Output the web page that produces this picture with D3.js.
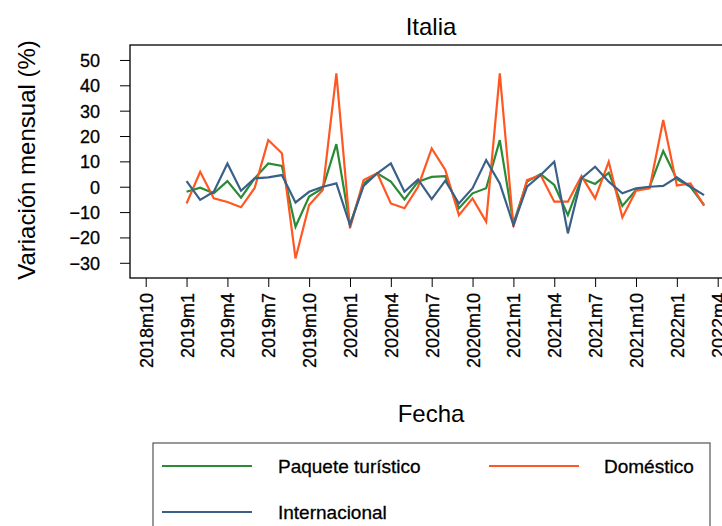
<!DOCTYPE html>
<html>
<head>
<meta charset="utf-8">
<script src="https://cdn.jsdelivr.net/npm/d3@7"></script>
<style>
body{margin:0;background:#fff;}
text{font-family:"Liberation Sans",Arial,sans-serif;fill:#000;}
</style>
</head>
<body>
<div id="chart"></div>
<script>
// all months on the x axis, 2018m10 .. 2022m4
var allMonths = ["2018m10","2018m11","2018m12",
  "2019m1","2019m2","2019m3","2019m4","2019m5","2019m6","2019m7","2019m8","2019m9","2019m10","2019m11","2019m12",
  "2020m1","2020m2","2020m3","2020m4","2020m5","2020m6","2020m7","2020m8","2020m9","2020m10","2020m11","2020m12",
  "2021m1","2021m2","2021m3","2021m4","2021m5","2021m6","2021m7","2021m8","2021m9","2021m10","2021m11","2021m12",
  "2022m1","2022m2","2022m3","2022m4"];
// months with data
var fechas = allMonths.slice(3, 42);
var tickLabels = ["2018m10","2019m1","2019m4","2019m7","2019m10","2020m1","2020m4","2020m7","2020m10","2021m1","2021m4","2021m7","2021m10","2022m1","2022m4"];
var yTicks = [-30,-20,-10,0,10,20,30,40,50];

var paquete = [-2,-0.4,-2.6,2.2,-4.3,3.3,9.2,8.2,-15.8,-3.9,-0.6,16.8,-15.1,1.3,5.3,2,-5,2,3.9,4.2,-8.5,-2.6,-0.6,18.4,-14.5,2,5,0.7,-11.2,3.3,1.1,5.5,-7.6,-1.3,0,14.1,3,0,-7.2];
var domestico = [-6.6,5.9,-4.6,-6,-8.1,-0.5,18.4,13.2,-28.3,-7.2,-1.3,44.7,-16.4,2.6,5.3,-6.6,-8.5,0,15.1,6.6,-11.2,-4.6,-13.8,44.7,-15.8,2.6,4.6,-5.9,-5.9,4.2,-4.6,9.9,-12.1,-1.6,-0.6,26.3,0.5,1.3,-7.5];
var internacional = [2.2,-5.2,-2,9.2,-1.6,3.3,3.7,4.6,-6.2,-2,0,1.3,-15.1,0.3,5.3,9.2,-2,2.9,-4.9,2.4,-6.6,-0.6,10.5,1.3,-15.1,0,4.6,9.9,-18.4,3.3,7.9,2,-2.6,-0.6,0,0.3,3.7,0,-3.3];

var series = [
  {name:"Paquete turístico", values:paquete, color:"#2a8a35"},
  {name:"Doméstico", values:domestico, color:"#ff5722"},
  {name:"Internacional", values:internacional, color:"#3b6088"}
];

var W = 722, H = 526;
var box = {left:130, right:734, top:45, bottom:278};

var svg = d3.select("#chart").append("svg").attr("width",W).attr("height",H);

var x = d3.scalePoint().domain(allMonths).range([145.7, 717.7]);
var y = d3.scaleLinear().domain([-36, 55.9]).range([box.bottom, box.top]);

//title
svg.append("text").attr("x",431).attr("y",35).attr("text-anchor","middle")
  .style("font-size","24px").text("Italia");

//y axis
var yAxis = svg.append("g").attr("transform","translate("+box.left+",0)")
  .call(d3.axisLeft(y).tickValues(yTicks).tickSize(10).tickPadding(20));
yAxis.select(".domain").remove();
yAxis.selectAll("text").style("font-size","18px").attr("font-family",null).attr("dy","0.36em")
  .style("stroke","#000").style("stroke-width","0.3px");
yAxis.selectAll("line").attr("stroke","#000");

//x axis
var xAxis = svg.append("g").attr("transform","translate(0,"+box.bottom+")")
  .call(d3.axisBottom(x).tickValues(tickLabels).tickSize(9));
xAxis.select(".domain").remove();
xAxis.selectAll("line").attr("stroke","#000");
xAxis.selectAll("text")
  .attr("y",0).attr("x",0).attr("dy","0.36em")
  .attr("transform","translate(0,15) rotate(-90)")
  .attr("text-anchor","end")
  .attr("font-family",null)
  .style("font-size","18px")
  .style("stroke","#000").style("stroke-width","0.3px");

//box
svg.append("rect").attr("x",box.left).attr("y",box.top)
  .attr("width",box.right-box.left).attr("height",box.bottom-box.top)
  .attr("fill","none").attr("stroke","#000").attr("stroke-width",1.3);

//axis titles
svg.append("text").attr("transform","translate(35,160) rotate(-90)")
  .attr("text-anchor","middle").style("font-size","24px").text("Variación mensual (%)");
svg.append("text").attr("x",431).attr("y",422).attr("text-anchor","middle")
  .style("font-size","24px").text("Fecha");

//lines
var line = d3.line()
  .x(function(d,i){ return x(fechas[i]); })
  .y(function(d){ return y(d); });
series.forEach(function(s){
  svg.append("path").datum(s.values)
    .attr("d",line).attr("fill","none")
    .attr("stroke",s.color).attr("stroke-width",2.2)
    .attr("stroke-linejoin","miter");
});

//legend
var leg = svg.append("g");
leg.append("rect").attr("x",153).attr("y",443).attr("width",557).attr("height",100)
  .attr("fill","none").attr("stroke","#555").attr("stroke-width",1.2);
var legPos = [{lx:162,tx:278,ly:466},{lx:489,tx:604,ly:466},{lx:162,tx:278,ly:512}];
series.forEach(function(s,i){
  var p = legPos[i];
  leg.append("line").attr("x1",p.lx).attr("x2",p.lx+90).attr("y1",p.ly).attr("y2",p.ly)
    .attr("stroke",s.color).attr("stroke-width",2.2);
  leg.append("text").attr("x",p.tx).attr("y",p.ly).attr("dy","0.36em")
    .style("font-size","19px").style("stroke","#000").style("stroke-width","0.3px")
    .text(s.name);
});
</script>
</body>
</html>
